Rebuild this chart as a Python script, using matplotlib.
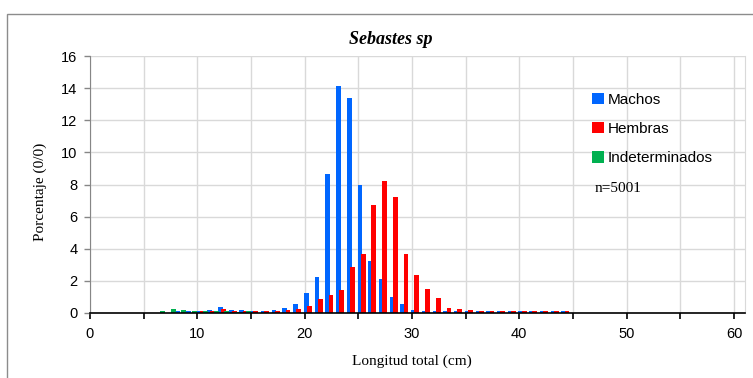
import matplotlib.pyplot as plt
import numpy as np
from matplotlib.patches import Patch, Rectangle

# length classes (cm) and percentage per class
longitud = np.arange(6, 45)
machos = [0, 0, 0.1, 0.1, 0.1, 0.19, 0.35, 0.19, 0.19, 0.1,
          0.1, 0.19, 0.33, 0.58, 1.27, 2.26, 8.63, 14.15, 13.39, 7.95,
          3.26, 2.12, 1.0, 0.58, 0.19, 0.1, 0.1, 0.1, 0.1, 0.1,
          0.1, 0.1, 0.1, 0.1, 0.1, 0.1, 0.1, 0.1, 0.1]
hembras = [0, 0, 0, 0, 0.1, 0.1, 0.25, 0.12, 0.1, 0.1,
           0.1, 0.1, 0.19, 0.25, 0.44, 0.85, 1.1, 1.43, 2.84, 3.69,
           6.7, 8.22, 7.22, 3.69, 2.35, 1.49, 0.91, 0.33, 0.25, 0.17,
           0.1, 0.1, 0.1, 0.1, 0.1, 0.1, 0.1, 0.1, 0.1]
indeterminados = [0.1, 0.25, 0.19, 0.1, 0.12, 0.1, 0.12, 0.06, 0.1, 0,
                  0, 0, 0, 0, 0, 0, 0, 0, 0, 0,
                  0, 0, 0, 0, 0, 0, 0, 0, 0, 0,
                  0, 0, 0, 0, 0, 0, 0, 0, 0]
series = ['Machos', 'Hembras', 'Indeterminados']
colores = ['#0066FF', '#FF0000', '#00B050']
n_total = 5001

W, H = 753, 378
fig = plt.figure(figsize=(W / 100, H / 100), dpi=100)
ax = fig.add_axes([90 / W, 65 / H, 655 / W, 257 / H])

# outer chart frame
fig.add_artist(Rectangle((7 / W, -0.1), 1.2, (H - 14) / H + 0.1,
                         transform=fig.transFigure, fill=False,
                         edgecolor='#8c8c8c', lw=1))

ancho = 0.45
for i, (vals, col) in enumerate(zip([machos, hembras, indeterminados], colores)):
    ax.bar(longitud + 0.15 + 0.3 * i, vals, width=ancho, color=col,
           edgecolor='none', zorder=3)

ax.set_xlim(0, 61.03)
ax.set_ylim(0, 16)
ax.set_xticks(np.arange(0, 61, 5))
ax.set_xticklabels([str(v) if v % 10 == 0 else '' for v in range(0, 61, 5)])
ax.set_yticks(np.arange(0, 17, 2))
ax.grid(color='#d9d9d9', lw=1, zorder=0)
ax.set_axisbelow(True)

for lab in ax.get_xticklabels() + ax.get_yticklabels():
    lab.set_fontfamily('Liberation Sans')
    lab.set_fontsize(10.5)
ax.tick_params(axis='x', length=4, width=1.2, color='black', pad=6)
ax.tick_params(axis='y', length=4, width=1, color='#868686', pad=5)

ax.spines['top'].set_visible(False)
ax.spines['right'].set_color('#d9d9d9')
ax.spines['left'].set_color('#868686')
ax.spines['bottom'].set_color('black')
ax.spines['bottom'].set_linewidth(1.2)
ax.spines['bottom'].set_zorder(4)

fig.text(391 / W, 1 - 39 / H, 'Sebastes sp', family='Liberation Serif',
         fontweight='bold', style='italic', fontsize=13, ha='center', va='center')
fig.text(40 / W, 1 - 192 / H, 'Porcentaje (0/0)', family='Liberation Serif',
         fontsize=11, rotation=90, ha='center', va='center')
fig.text(412 / W, 1 - 361 / H, 'Longitud total (cm)', family='Liberation Serif',
         fontsize=11, ha='center', va='center')

handles = [Patch(facecolor=c, edgecolor='none') for c in colores]
ax.legend(handles, series, loc='upper left', bbox_to_anchor=(584 / W, 1 - 85 / H),
          bbox_transform=fig.transFigure, frameon=False, borderpad=0,
          handlelength=0.8, handleheight=0.8, handletextpad=0.25,
          labelspacing=0.98, prop={'family': 'Liberation Sans', 'size': 11})
fig.text(595 / W, 1 - 188 / H, f'n={n_total}', family='Liberation Serif',
         fontsize=11, ha='left', va='center')

fig.savefig('out.png', dpi=100)
